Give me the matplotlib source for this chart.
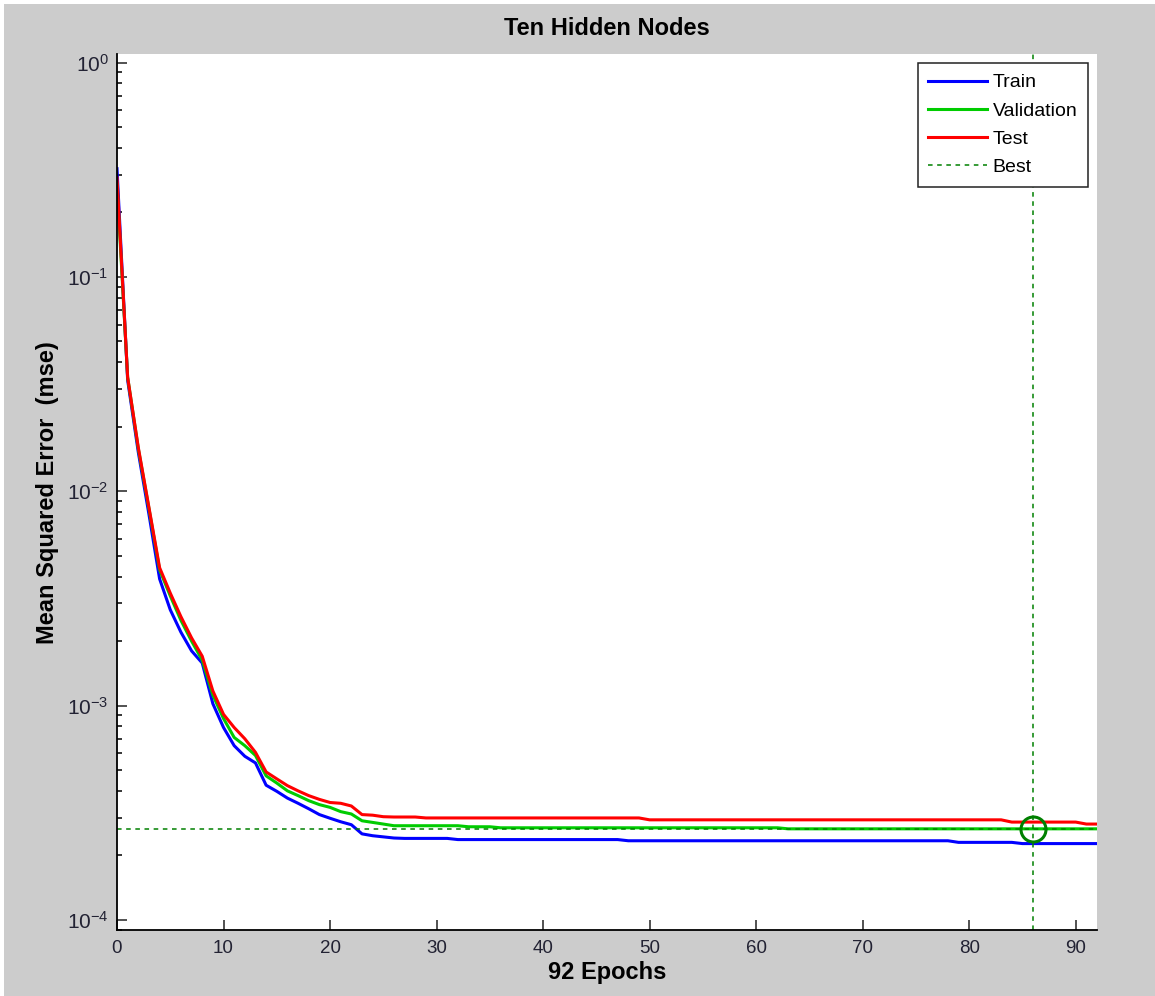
import matplotlib
matplotlib.use('Agg')
import matplotlib.pyplot as plt
import matplotlib.ticker as mticker
from matplotlib.patches import Rectangle

plt.rcParams['font.family'] = ['Liberation Sans', 'DejaVu Sans']
plt.rcParams['axes.unicode_minus'] = False

title = 'Ten Hidden Nodes'
xlabel = '92 Epochs'
ylabel = 'Mean Squared Error  (mse)'
series_names = ['Train', 'Validation', 'Test', 'Best']

epochs = list(range(0, 93))
train = [0.32, 0.033, 0.0152, 0.0078, 0.0039, 0.0028, 0.0022, 0.0018, 0.00158, 0.00102,
         0.00079, 0.00065, 0.00058, 0.00054, 0.000425, 0.000398, 0.00037, 0.00035, 0.00033, 0.00031,
         0.000298, 0.000287, 0.000278, 0.000252, 0.000247, 0.000244, 0.000241, 0.00024, 0.00024, 0.00024,
         0.00024, 0.00024, 0.000237, 0.000237, 0.000237, 0.000237, 0.000237, 0.000237, 0.000237, 0.000237,
         0.000237, 0.000237, 0.000237, 0.000237, 0.000237, 0.000237, 0.000237, 0.000237, 0.000234, 0.000234,
         0.000234, 0.000234, 0.000234, 0.000234, 0.000234, 0.000234, 0.000234, 0.000234, 0.000234, 0.000234,
         0.000234, 0.000234, 0.000234, 0.000234, 0.000234, 0.000234, 0.000234, 0.000234, 0.000234, 0.000234,
         0.000234, 0.000234, 0.000234, 0.000234, 0.000234, 0.000234, 0.000234, 0.000234, 0.000234, 0.00023,
         0.00023, 0.00023, 0.00023, 0.00023, 0.00023, 0.000227, 0.000227, 0.000227, 0.000227, 0.000227,
         0.000227, 0.000227, 0.000227]
valid = [0.27, 0.034, 0.0158, 0.0083, 0.0043, 0.00325, 0.0025, 0.002, 0.00163, 0.00112,
         0.00087, 0.00071, 0.00065, 0.000585, 0.00047, 0.000435, 0.0004, 0.00038, 0.00036, 0.000345,
         0.000335, 0.00032, 0.000312, 0.00029, 0.000285, 0.00028, 0.000275, 0.000275, 0.000275, 0.000275,
         0.000275, 0.000275, 0.000275, 0.000272, 0.000272, 0.000272, 0.000269, 0.000269, 0.000269, 0.000269,
         0.000269, 0.000269, 0.000269, 0.000269, 0.000269, 0.000269, 0.000269, 0.000269, 0.000269, 0.000269,
         0.000269, 0.000269, 0.000269, 0.000269, 0.000269, 0.000269, 0.000269, 0.000269, 0.000269, 0.000269,
         0.000269, 0.000269, 0.000269, 0.000266, 0.000266, 0.000266, 0.000266, 0.000266, 0.000266, 0.000266,
         0.000266, 0.000266, 0.000266, 0.000266, 0.000266, 0.000266, 0.000266, 0.000266, 0.000266, 0.000266,
         0.000266, 0.000266, 0.000266, 0.000266, 0.000266, 0.000266, 0.000266, 0.000266, 0.000266, 0.000266,
         0.000266, 0.000266, 0.000266]
test = [0.29, 0.034, 0.016, 0.0084, 0.0044, 0.00335, 0.0026, 0.00207, 0.0017, 0.00117,
        0.00091, 0.00079, 0.0007, 0.000605, 0.00049, 0.000455, 0.000423, 0.0004, 0.00038, 0.000365,
        0.000353, 0.00035, 0.00034, 0.00031, 0.000308, 0.000303, 0.000302, 0.000302, 0.000302, 0.000299,
        0.000299, 0.000299, 0.000299, 0.000299, 0.000299, 0.000299, 0.000299, 0.000299, 0.000299, 0.000299,
        0.000299, 0.000299, 0.000299, 0.000299, 0.000299, 0.000299, 0.000299, 0.000299, 0.000299, 0.000299,
        0.000293, 0.000293, 0.000293, 0.000293, 0.000293, 0.000293, 0.000293, 0.000293, 0.000293, 0.000293,
        0.000293, 0.000293, 0.000293, 0.000293, 0.000293, 0.000293, 0.000293, 0.000293, 0.000293, 0.000293,
        0.000293, 0.000293, 0.000293, 0.000293, 0.000293, 0.000293, 0.000293, 0.000293, 0.000293, 0.000293,
        0.000293, 0.000293, 0.000293, 0.000293, 0.000286, 0.000286, 0.000286, 0.000286, 0.000286, 0.000286,
        0.000286, 0.00028, 0.00028]
best_epoch = 86
best_value = 0.000266
xticks = [0, 10, 20, 30, 40, 50, 60, 70, 80, 90]
yticks = [1e-4, 1e-3, 1e-2, 1e-1, 1e0]

fig = plt.figure(figsize=(11.55, 9.96), dpi=100, facecolor='white')
fig.patches.append(Rectangle((4/1155, 0), 1 - 4/1155, 1 - 4/996, transform=fig.transFigure,
                             facecolor='#cccccc', edgecolor='none', zorder=-10))
ax = fig.add_axes([117/1155, 66/996, 980/1155, 875.7/996])
ax.set_facecolor('white')

ax.plot(epochs, train, color='#0000ff', lw=2.2, label=series_names[0])
ax.plot(epochs, valid, color='#00cc00', lw=2.2, label=series_names[1])
ax.plot(epochs, test, color='#ff0000', lw=2.2, label=series_names[2])
ax.axhline(best_value, color='#008000', lw=1.1, ls=(0, (3, 3)), label=series_names[3])
ax.axvline(best_epoch, color='#008000', lw=1.1, ls=(0, (3, 3)))
ax.plot([best_epoch], [best_value], 'o', ms=18, mfc='none', mec='#008000', mew=2.2)

ax.set_yscale('log')
ax.set_xlim(0, 92)
ax.set_ylim(8.97e-5, 1.094)
ax.set_xticks(xticks)
ax.set_yticks(yticks)
ax.yaxis.set_major_formatter(mticker.LogFormatterSciNotation())
ax.yaxis.set_minor_locator(mticker.LogLocator(base=10, subs=range(2, 10), numticks=20))
ax.yaxis.set_minor_formatter(mticker.NullFormatter())

for s in ['top', 'right']:
    ax.spines[s].set_visible(False)
for s in ['left', 'bottom']:
    ax.spines[s].set_linewidth(1.3)
ax.tick_params(which='major', direction='in', length=7.2, width=1.1, labelsize=13.5, pad=7,
               top=False, right=False, colors='#222222', labelcolor='#222233')
ax.tick_params(which='minor', direction='in', length=3.8, width=1.1, top=False, right=False)
ax.tick_params(axis='y', which='major', pad=6, labelsize=15)

ax.set_title(title, fontsize=17, fontweight='bold', pad=14)
ax.set_xlabel(xlabel, fontsize=17, fontweight='bold', labelpad=3)
ax.set_ylabel(ylabel, fontsize=17, fontweight='bold', labelpad=6)

leg = ax.legend(loc='upper right', fontsize=14, frameon=True, fancybox=False, framealpha=1,
                edgecolor='#222222', handlelength=3.0, handletextpad=0.32, labelspacing=0.55,
                borderaxespad=0.45, borderpad=0.55)
leg.get_frame().set_linewidth(1.1)

fig.savefig('out.png', dpi=100, facecolor=fig.get_facecolor())
